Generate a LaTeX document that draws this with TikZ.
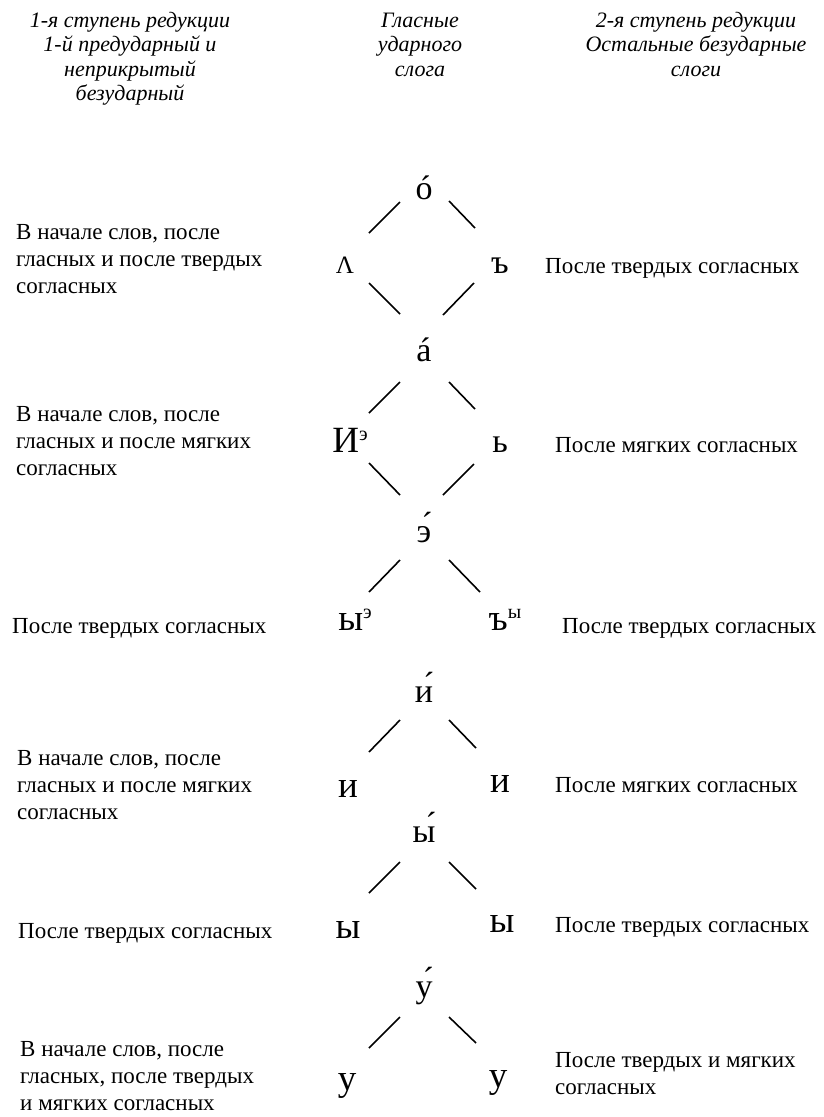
\documentclass[tikz,border=0pt]{standalone}
\usepackage{fontspec}
\setmainfont{Liberation Serif}
\usetikzlibrary{calc}
\begin{document}
\begin{tikzpicture}[x=1pt,y=-1pt,
  seg/.style={line width=1.6pt},
  head/.style={font=\fontsize{22}{24.5}\selectfont\itshape, align=center, anchor=base, inner sep=0pt},
  note/.style={font=\fontsize{23}{27}\selectfont, align=left, anchor=base west, inner sep=0pt},
  vow/.style={font=\fontsize{34}{38}\selectfont, anchor=base, inner sep=0pt},
  big/.style={font=\fontsize{37}{40}\selectfont, anchor=base, inner sep=0pt},
]
\newcommand{\supv}[1]{{\fontsize{20}{20}\selectfont\raisebox{12pt}{#1}}}
\useasboundingbox (0,0) rectangle (823,1117);

% column headings (a multi-line node sits on the baseline of its last line)
\node[head] (h1) at (130,100.5) {1-я ступень редукции\\1-й предударный и\\неприкрытый\\безударный};
\node[head] (h2) at (420,76) {Гласные\\ударного\\слога};
\node[head] (h3) at (696,76) {2-я ступень редукции\\Остальные безударные\\слоги};

% vowels
\node[vow] (o) at (424,199) {ó};
\node[vow, font=\fontsize{25}{28}\selectfont] (L) at (345,273) {Λ};
\node[vow] (b1) at (500,273) {ъ};
\node[vow] (a) at (424,361) {á};
\node[big] (ie) at (350,452) {И\supv{э}};
\node[vow] (sg) at (500,452) {ь};
\node[vow] (e) at (424,542) {э́};
\node[big] (ye) at (355,630) {ы\supv{э}};
\node[big] (yy) at (505,630) {ъ\supv{ы}};
\node[vow] (i) at (424,702) {и́};
\node[big] (iL) at (348,797) {и};
\node[big] (iR) at (500,792) {и};
\node[vow] (y) at (424,842) {ы́};
\node[big] (yL) at (348,938) {ы};
\node[big] (yR) at (502,932) {ы};
\node[vow] (u) at (424,997) {у́};
\node[big] (uL) at (347,1090) {у};
\node[big] (uR) at (498,1087) {у};

% links between the vowel levels
\draw[seg] ([shift={(-24,3)}]o.base) -- ([shift={(24,-40)}]L.base);
\draw[seg] ([shift={(25,2)}]o.base) -- ([shift={(-25,-45)}]b1.base);
\draw[seg] ([shift={(24,10)}]L.base) -- ([shift={(-24,-47)}]a.base);
\draw[seg] ([shift={(-26,10)}]b1.base) -- ([shift={(19,-46)}]a.base);
\draw[seg] ([shift={(-24,21)}]a.base) -- ([shift={(19,-39)}]ie.base);
\draw[seg] ([shift={(25,21)}]a.base) -- ([shift={(-25,-43)}]sg.base);
\draw[seg] ([shift={(19,11)}]ie.base) -- ([shift={(-24,-47)}]e.base);
\draw[seg] ([shift={(-26,12)}]sg.base) -- ([shift={(19,-47)}]e.base);
\draw[seg] ([shift={(-24,18)}]e.base) -- ([shift={(14,-38)}]ye.base);
\draw[seg] ([shift={(25,18)}]e.base) -- ([shift={(-25,-38)}]yy.base);
\draw[seg] ([shift={(-24,18)}]i.base) -- ([shift={(21,-45)}]iL.base);
\draw[seg] ([shift={(25,18)}]i.base) -- ([shift={(-24,-44)}]iR.base);
\draw[seg] ([shift={(-24,20)}]y.base) -- ([shift={(21,-45)}]yL.base);
\draw[seg] ([shift={(25,20)}]y.base) -- ([shift={(-26,-43)}]yR.base);
\draw[seg] ([shift={(-24,20)}]u.base) -- ([shift={(22,-42)}]uL.base);
\draw[seg] ([shift={(25,20)}]u.base) -- ([shift={(-22,-44)}]uR.base);

% positional notes (multi-line ones are placed by their last baseline)
\node[note] (l1) at (16,293) {В начале слов, после\\гласных и после твердых\\согласных};
\node[note] (r1) at (545,273) {После твердых согласных};
\node[note] (l2) at (16,475) {В начале слов, после\\гласных и после мягких\\согласных};
\node[note] (r2) at (555,452) {После мягких согласных};
\node[note] (l3) at (12,633) {После твердых согласных};
\node[note] (r3) at (562,633) {После твердых согласных};
\node[note] (l4) at (17,819) {В начале слов, после\\гласных и после мягких\\согласных};
\node[note] (r4) at (555,792) {После мягких согласных};
\node[note] (l5) at (18,938) {После твердых согласных};
\node[note] (r5) at (555,932) {После твердых согласных};
\node[note] (l6) at (20,1110) {В начале слов, после\\гласных, после твердых\\и мягких согласных};
\node[note] (r6) at (555,1094) {После твердых и мягких\\согласных};
\end{tikzpicture}
\end{document}
